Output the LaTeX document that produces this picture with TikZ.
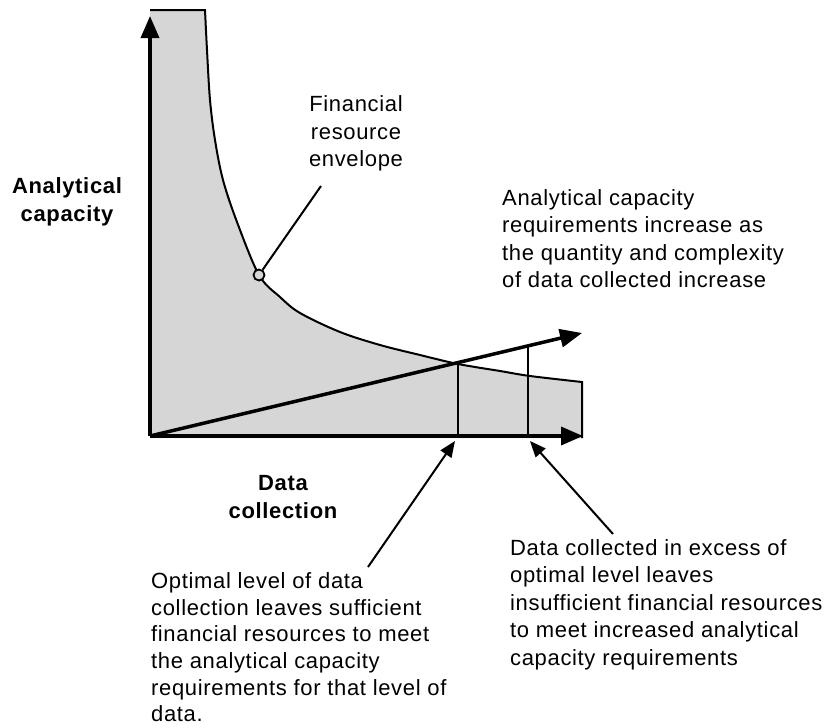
\documentclass[tikz,border=0pt]{standalone}
\usepackage{fontspec}
\setmainfont{Liberation Sans}[LetterSpace=3]
\usetikzlibrary{arrows.meta}
\definecolor{envfill}{RGB}{214,214,214}
\begin{document}
\begin{tikzpicture}[x=1pt,y=-1pt,
  txt/.style={inner sep=0pt, font=\fontsize{22}{27.5}\selectfont},
  boldtxt/.style={txt, font=\fontsize{22}{28}\selectfont\bfseries},
  axis/.style={line width=3.5pt, -{Triangle[length=22pt,width=18pt]}},
  thin/.style={line width=2pt},
  leader/.style={line width=2pt, -{Triangle[length=16pt,width=13pt]}}
]
\useasboundingbox (0,0) rectangle (831,728);

% key points of the chart
\coordinate (O) at (150,436);
\coordinate (ytop) at (150,16);
\coordinate (xend) at (583,436);
\coordinate (dend) at (582,333);
\coordinate (opt) at (458,364);
\coordinate (optb) at (458,436);
\coordinate (exc) at (528,346);
\coordinate (excb) at (528,436);

% financial resource envelope (shaded region)
\fill[envfill] (150,10) -- plot[smooth, tension=0.55] coordinates {(205,10) (207,50) (210,100) (215,140) (223,180) (237,222) (259,275) (280,297) (300,313) (340,332) (380,345) (420,355) (458,364) (500,371) (530,376) (582,382)} -- (582,438) -- (150,438) -- cycle;
\draw[thin] (150,10) -- plot[smooth, tension=0.55] coordinates {(205,10) (207,50) (210,100) (215,140) (223,180) (237,222) (259,275) (280,297) (300,313) (340,332) (380,345) (420,355) (458,364) (500,371) (530,376) (582,382)} -- (582,438);

% level markers
\draw[thin] (opt) -- (optb);
\draw[thin] (exc) -- (excb);

% axes and the requirement line
\draw[axis] (O) -- (ytop);
\draw[axis] (O) -- (xend);
\draw[axis] (O) -- (dend);

% point on the envelope
\node[circle, draw, line width=1.8pt, fill=envfill, inner sep=0pt, minimum size=11pt] (pt) at (259,275) {};
\coordinate (ptlead) at (321,186);
\draw[thin] (pt) -- (ptlead);

% labels
\node[txt, align=center, anchor=north] (env) at (356,92.5)
  {\strut Financial\\resource\\envelope};
\node[boldtxt, align=center, anchor=north] (ylab) at (67,173.5)
  {\strut Analytical\\capacity};
\node[boldtxt, align=center, anchor=north] (xlab) at (283,470.5)
  {\strut Data\\collection};
\node[txt, align=left, anchor=north west] (req) at (502,186)
  {\strut Analytical capacity\\requirements increase as\\the quantity and complexity\\of data collected increase};
\node[txt, font=\fontsize{22}{26.7}\selectfont, align=left, anchor=north west] (optlab) at (151,569.5)
  {\strut Optimal level of data\\collection leaves sufficient\\financial resources to meet\\the analytical capacity\\requirements for that level of\\data.};
\node[txt, align=left, anchor=north west] (exclab) at (510,536)
  {\strut Data collected in excess of\\optimal level leaves\\insufficient financial resources\\to meet increased analytical\\capacity requirements};

% callouts to the levels
\coordinate (optt) at (368,567);
\coordinate (exct) at (613,534);
\draw[leader] (optt) -- (455,441);
\draw[leader] (exct) -- (530,441);
\end{tikzpicture}
\end{document}
